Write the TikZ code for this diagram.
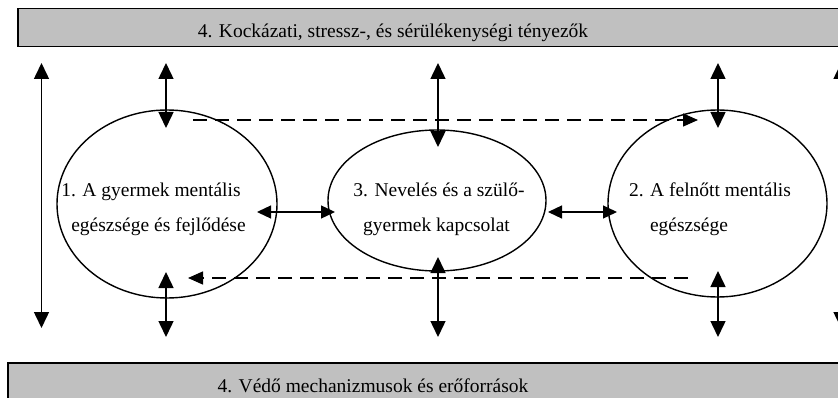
\documentclass[tikz,border=0pt]{standalone}
\usepackage{fontspec}
\setmainfont{Liberation Serif}
\usetikzlibrary{arrows.meta,shapes.geometric}
\definecolor{bandgray}{RGB}{192,192,192}
\begin{document}
\begin{tikzpicture}[x=1pt,y=-1pt,
  lbl/.style={font=\fontsize{19.5}{22}\selectfont, anchor=base, inner sep=0pt},
  oval/.style={ellipse, draw, line width=1.4pt, inner sep=0pt},
  band/.style={draw=black, line width=1.5pt, fill=bandgray, inner sep=0pt, anchor=north west},
  vbi/.style={line width=1.5pt, {Triangle[length=16pt,width=15pt]}-{Triangle[length=16pt,width=15pt]}},
  hbi/.style={line width=1.3pt, {Triangle[length=14pt,width=13pt]}-{Triangle[length=14pt,width=13pt]}},
  dasharrow/.style={line width=1.4pt, dash pattern=on 14pt off 8pt, -{Triangle[length=15pt,width=13pt]}}]
\useasboundingbox (0,0) rectangle (838,398);
\clip (0,0) rectangle (838,398);
\fill[white] (0,0) rectangle (838,398);

% bands
\node[band, minimum width=835pt, minimum height=38pt] (topband) at (17,8) {};
\node[lbl] (toptext) at (393,37.5) {4. Kockázati, stressz-, és sérülékenységi tényezők};
\node[band, minimum width=845pt, minimum height=45pt] (botband) at (7,362) {};
\node[lbl] (bottext) at (373,392) {4. Védő mechanizmusok és erőforrások};

% ellipses
\node[oval, minimum width=220pt, minimum height=188pt] (e1) at (167,204) {};
\node[oval, minimum width=218pt, minimum height=141pt] (e3) at (437,200.5) {};
\node[oval, minimum width=219pt, minimum height=187pt] (e2) at (717.5,203.5) {};

% texts
\node[lbl] (t1a) at (151,196.5) {1. A gyermek mentális};
\node[lbl] (t1b) at (158.5,232) {egészsége és fejlődése};
\node[lbl] (t3a) at (439,196.5) {3. Nevelés és a szülő-};
\node[lbl] (t3b) at (436.5,232) {gyermek kapcsolat};
\node[lbl] (t2a) at (710,196.5) {2. A felnőtt mentális};
\node[lbl] (t2b) at (689,232) {egészsége};

% coordinates
\coordinate (L1) at (41.5,63);  \coordinate (L2) at (41.5,328);
\coordinate (R1) at (841,63);   \coordinate (R2) at (841,328);
\coordinate (a1t) at (166,63);  \coordinate (a1b) at (166,128);
\coordinate (b1t) at (166,272); \coordinate (b1b) at (166,337);
\coordinate (a3t) at (438,63);  \coordinate (a3b) at (438,147);
\coordinate (b3t) at (438,257); \coordinate (b3b) at (438,337);
\coordinate (a2t) at (718,63);  \coordinate (a2b) at (718,128);
\coordinate (b2t) at (718,271); \coordinate (b2b) at (718,337);
\coordinate (h1l) at (257,212); \coordinate (h1r) at (335,212);
\coordinate (h2l) at (548,212); \coordinate (h2r) at (617,212);
\coordinate (d1s) at (193,120); \coordinate (d1e) at (698,120);
\coordinate (d2s) at (688,278); \coordinate (d2e) at (188,278);

% long side arrows
\draw[vbi] (L1) -- (L2);
\draw[vbi] (R1) -- (R2);
% short vertical arrows
\draw[vbi] (a1t) -- (a1b);
\draw[vbi] (b1t) -- (b1b);
\draw[vbi] (a3t) -- (a3b);
\draw[vbi] (b3t) -- (b3b);
\draw[vbi] (a2t) -- (a2b);
\draw[vbi] (b2t) -- (b2b);
% horizontal arrows
\draw[hbi] (h1l) -- (h1r);
\draw[hbi] (h2l) -- (h2r);
% dashed arrows
\draw[dasharrow] (d1s) -- (d1e);
\draw[dasharrow] (d2s) -- (d2e);
\end{tikzpicture}
\end{document}
